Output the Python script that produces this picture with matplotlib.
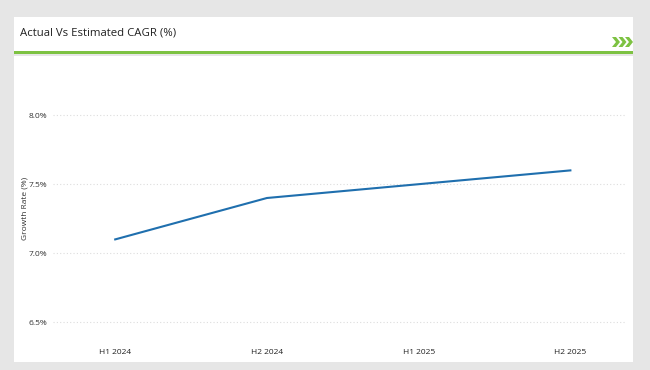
import matplotlib.pyplot as plt
import matplotlib.patches as patches

periods = ["H1 2024", "H2 2024", "H1 2025", "H2 2025"]
growth = [7.1, 7.4, 7.5, 7.6]
yticks = [6.5, 7.0, 7.5, 8.0]

plt.rcParams['font.family'] = ['Open Sans', 'DejaVu Sans']

W, H = 650, 370
fig = plt.figure(figsize=(6.5, 3.7), dpi=100, facecolor='#e6e6e6')

def px_rect(x0, y0, x1, y1, color):
    # pixel box (top-left origin) -> figure fraction
    fig.patches.append(patches.Rectangle((x0 / W, 1 - y1 / H), (x1 - x0) / W, (y1 - y0) / H,
                                         transform=fig.transFigure, facecolor=color,
                                         edgecolor='none', zorder=0))

# header panel, green rule, body panel
px_rect(14, 17, 633, 51, 'white')
px_rect(14, 51, 633, 53.5, '#7dc242')
px_rect(14, 56, 633, 362, 'white')

fig.text(20 / W, 1 - 33 / H, "Actual Vs Estimated CAGR (%)", fontsize=8.2, color='#222222',
         va='center', ha='left')

# chevrons
for i in range(3):
    x0 = 612 + i * 6.5
    yc = 42
    pts = [(x0, yc - 5), (x0 + 4, yc - 5), (x0 + 8, yc), (x0 + 4, yc + 5), (x0, yc + 5), (x0 + 4, yc)]
    fig.patches.append(patches.Polygon([(x / W, 1 - y / H) for x, y in pts], closed=True,
                                       transform=fig.transFigure, facecolor='#7dc242',
                                       edgecolor='none', zorder=1))

ax = fig.add_axes([53 / W, 34 / H, 572 / W, 256 / H])
ax.set_zorder(5)
ax.set_facecolor('white')
x = list(range(len(periods)))
ax.plot(x, growth, color='#1f6fae', linewidth=1.5, zorder=3)

ax.set_xlim(-0.41, 3.36)
ax.set_ylim(6.4, 8.255)
ax.set_xticks(x)
ax.set_xticklabels(periods, fontsize=6, color='#222222')
ax.set_yticks(yticks)
ax.set_yticklabels([f"{v:.1f}%" for v in yticks], fontsize=6, color='#333333')
ax.tick_params(axis='both', length=0)
ax.tick_params(axis='x', pad=9.5)
ax.tick_params(axis='y', pad=4)
ax.set_ylabel("Growth Rate (%)", fontsize=6, color='#333333', labelpad=0)
ax.grid(axis='y', linestyle=(0, (1, 2)), color='#dddddd', linewidth=0.8)
ax.set_axisbelow(True)
for s in ax.spines.values():
    s.set_visible(False)

fig.savefig('out.png', dpi=100, facecolor=fig.get_facecolor())
